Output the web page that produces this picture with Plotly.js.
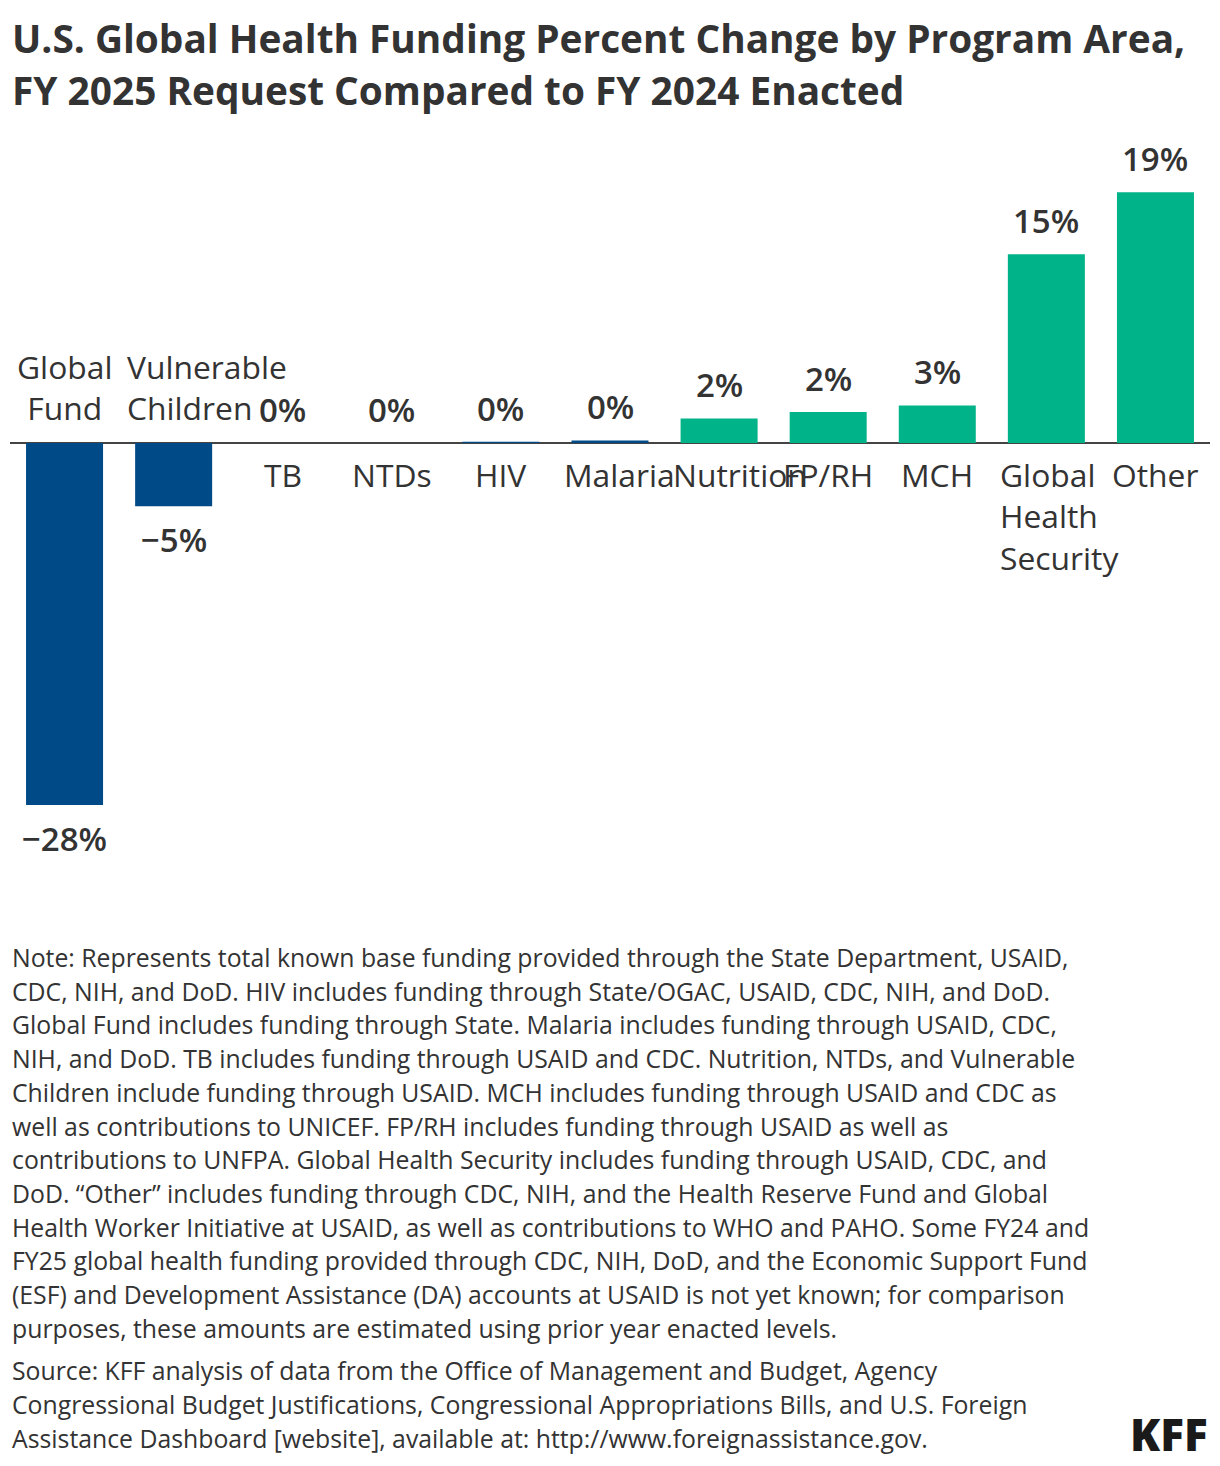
<!DOCTYPE html>
<html>
<head>
<meta charset="utf-8">
<script src="https://cdn.plot.ly/plotly-3.0.1.min.js"></script>
<style>
  html, body { margin: 0; padding: 0; background: #ffffff; }
  #chart { width: 1220px; height: 1466px; }
</style>
</head>
<body>
<div id="chart"></div>
<script>
// ---------- DATA ----------
const categories = ["Global Fund", "Vulnerable Children", "TB", "NTDs", "HIV", "Malaria",
                    "Nutrition", "FP/RH", "MCH", "Global Health Security", "Other"];
const tickLabels = ["Global<br>Fund", "Vulnerable<br>Children", "TB", "NTDs", "HIV", "Malaria",
                    "Nutrition", "FP/RH", "MCH", "Global<br>Health<br>Security", "Other"];
const percentChange = [-28.0, -4.9, 0.0, 0.0, 0.1, 0.2, 1.9, 2.4, 2.9, 14.6, 19.4];
const barGroup = ["decrease", "decrease", "decrease", "decrease", "decrease", "decrease",
                  "increase", "increase", "increase", "increase", "increase"];

const titleLines = [
  "U.S. Global Health Funding Percent Change by Program Area,",
  "FY 2025 Request Compared to FY 2024 Enacted"
];
const noteLines = [
  "Note: Represents total known base funding provided through the State Department, USAID,",
  "CDC, NIH, and DoD. HIV includes funding through State/OGAC, USAID, CDC, NIH, and DoD.",
  "Global Fund includes funding through State. Malaria includes funding through USAID, CDC,",
  "NIH, and DoD. TB includes funding through USAID and CDC. Nutrition, NTDs, and Vulnerable",
  "Children include funding through USAID. MCH includes funding through USAID and CDC as",
  "well as contributions to UNICEF. FP/RH includes funding through USAID as well as",
  "contributions to UNFPA. Global Health Security includes funding through USAID, CDC, and",
  "DoD. \u201COther\u201D includes funding through CDC, NIH, and the Health Reserve Fund and Global",
  "Health Worker Initiative at USAID, as well as contributions to WHO and PAHO. Some FY24 and",
  "FY25 global health funding provided through CDC, NIH, DoD, and the Economic Support Fund",
  "(ESF) and Development Assistance (DA) accounts at USAID is not yet known; for comparison",
  "purposes, these amounts are estimated using prior year enacted levels."
];
const sourceLines = [
  "Source: KFF analysis of data from the Office of Management and Budget, Agency",
  "Congressional Budget Justifications, Congressional Appropriations Bills, and U.S. Foreign",
  "Assistance Dashboard [website], available at: http://www.foreignassistance.gov."
];

// ---------- STYLE ----------
const FONT = "'Open Sans', 'Noto Sans', sans-serif";
const TEXT = "#333333";
const groupColors = { decrease: "#004A88", increase: "#00B388" };
const W = 1220, H = 1466;
const M = { l: 10, r: 10, t: 150, b: 620 };
const plotH = H - M.t - M.b;
const plotW = W - M.l - M.r;
const yRange = [-31.17, 22.66];
const labelBoxHalf = 48.5;

function paperY(px) { return (H - M.b - px) / plotH; }
function paperX(px) { return (px - M.l) / plotW; }
function fmtPct(v) {
  const r = Math.round(v);
  return (r < 0 ? "\u2212" + Math.abs(r) : String(r)) + "%";
}
const canvas = document.createElement("canvas");
const ctx = canvas.getContext("2d");
function textWidth(str, size, weight) {
  ctx.font = (weight || 400) + " " + size + "px " + FONT;
  return Math.max(...str.split("<br>").map(s => ctx.measureText(s).width));
}
// font size that makes a reference string span a given pixel width
function fitSize(str, target, weight) {
  return Math.round(100 * target / textWidth(str, 100, weight) * 10) / 10;
}

const TITLE_SIZE = fitSize(titleLines[0], 1173, 700);
const NOTE_SIZE = fitSize(noteLines[0], 1058, 400);
const CAT_SIZE = fitSize("Vulnerable", 160, 400);
const VAL_SIZE = fitSize("\u221228%", 85, 600);

const trace = {
  type: "bar",
  x: categories,
  y: percentChange,
  marker: { color: barGroup.map(g => groupColors[g]) },
  hoverinfo: "skip"
};

const annotations = [];
categories.forEach((c, i) => {
  const v = percentChange[i];
  const neg = v < 0;
  annotations.push({
    x: c, y: v, xref: "x", yref: "y",
    text: fmtPct(v),
    showarrow: false,
    yanchor: neg ? "top" : "bottom",
    yshift: neg ? -9 : 9,
    font: { family: FONT, size: VAL_SIZE, color: TEXT, weight: 600 }
  });
  const wide = textWidth(tickLabels[i], CAT_SIZE, 400) > labelBoxHalf * 2;
  annotations.push({
    x: c, y: 0, xref: "x", yref: "y",
    text: tickLabels[i],
    showarrow: false,
    align: wide ? "left" : "center",
    xanchor: wide ? "left" : "center",
    xshift: wide ? -labelBoxHalf : 0,
    yanchor: neg ? "bottom" : "top",
    yshift: neg ? 12 : -8,
    font: { family: FONT, size: CAT_SIZE, color: TEXT }
  });
});

titleLines.forEach((t, i) => {
  annotations.push({
    xref: "paper", yref: "paper", x: paperX(10), y: paperY(38 + i * 52),
    xanchor: "left", yanchor: "middle", showarrow: false,
    text: t,
    font: { family: FONT, size: TITLE_SIZE, color: TEXT, weight: 700 }
  });
});
noteLines.forEach((t, i) => {
  annotations.push({
    xref: "paper", yref: "paper", x: paperX(10), y: paperY(957 + i * 33.7),
    xanchor: "left", yanchor: "middle", showarrow: false,
    text: t,
    font: { family: FONT, size: NOTE_SIZE, color: TEXT }
  });
});
sourceLines.forEach((t, i) => {
  annotations.push({
    xref: "paper", yref: "paper", x: paperX(10), y: paperY(1370 + i * 34),
    xanchor: "left", yanchor: "middle", showarrow: false,
    text: t,
    font: { family: FONT, size: NOTE_SIZE, color: TEXT }
  });
});
annotations.push({
  xref: "paper", yref: "paper", x: paperX(1210), y: paperY(1434),
  xanchor: "right", yanchor: "middle", showarrow: false,
  text: "KFF",
  font: { family: FONT, size: 44, color: "#1a1a1a", weight: 800 }
});

const layout = {
  width: W, height: H,
  margin: M,
  paper_bgcolor: "#ffffff", plot_bgcolor: "#ffffff",
  showlegend: false,
  bargap: 0.294,
  xaxis: {
    type: "category",
    showticklabels: false, showgrid: false, zeroline: false, showline: false, ticks: ""
  },
  yaxis: {
    range: yRange,
    showticklabels: false, showgrid: false, showline: false, ticks: "",
    zeroline: true, zerolinecolor: "#444444", zerolinewidth: 2
  },
  annotations: annotations,
  font: { family: FONT, color: TEXT }
};

Plotly.newPlot("chart", [trace], layout, { displayModeBar: false, staticPlot: true });
</script>
</body>
</html>
